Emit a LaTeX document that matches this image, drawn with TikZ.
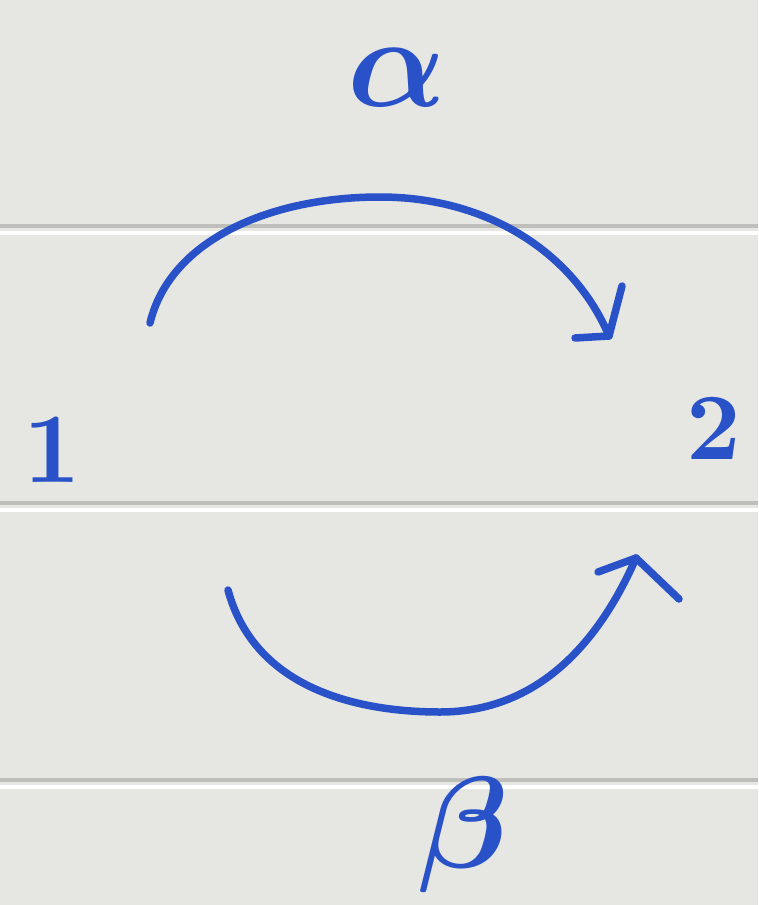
\documentclass[tikz,border=0pt]{standalone}
\usepackage{amsmath,bm}
\definecolor{paper}{RGB}{230,231,227}
\definecolor{rule}{RGB}{190,191,186}
\definecolor{ink}{RGB}{42,82,200}
\begin{document}
\begin{tikzpicture}[x=1pt,y=-1pt,
  ink/.style={draw=ink,line width=7.5pt,line cap=round,line join=round},
  lbl/.style={text=ink,inner sep=0pt},
  ruling/.style={draw=rule,line width=4pt},
  shine/.style={draw=white,line width=4pt}]
\fill[paper] (0,0) rectangle (758,905);
\useasboundingbox (0,0) rectangle (758,905);
% ruled lines
\foreach \y in {226,503,780}{
  \draw[ruling] (0,\y) -- (758,\y);
  \draw[shine] (0,\y+7) -- (758,\y+7);
}
% labels
\node[lbl,scale=10] (n1) at (52,450) {\bfseries 1};
\node[lbl,scale=9.5] (n2) at (714,428) {\bfseries 2};
\node[lbl,scale=13] (la) at (397,78) {$\bm{\alpha}$};
\node[lbl,scale=13] (lb) at (464,835) {$\bm{\beta}$};
% arrows
\coordinate (as) at (150,323);
\coordinate (ae) at (609,336);
\coordinate (bs) at (228,590);
\coordinate (be) at (636,558);
\draw[ink] (as) .. controls (170,240) and (270,197) .. (380,197)
                .. controls (490,197) and (575,255) .. (ae);
\draw[ink] (ae) ++(-34,2) -- (ae) -- ++(13,-50);
\draw[ink] (bs) .. controls (255,690) and (360,712) .. (440,712)
                .. controls (540,712) and (600,640) .. (be);
\draw[ink] (be) ++(-38,14) -- (be) -- ++(43,41);
\end{tikzpicture}
\end{document}
